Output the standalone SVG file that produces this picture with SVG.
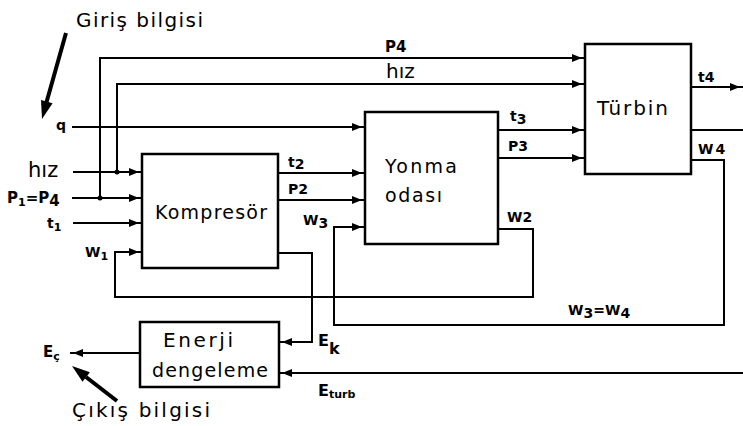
<svg xmlns="http://www.w3.org/2000/svg" width="743" height="426" viewBox="0 0 743 426">
<style>
.ln{fill:none;stroke:#000;stroke-width:2}
.box{fill:#fff;stroke:#000;stroke-width:2.5}
text{font-family:"DejaVu Sans","Liberation Sans",sans-serif;fill:#000}
.lbl{font-size:19px}
.var{font-size:14px;font-weight:bold}
.sub{font-size:11px}
</style>
<defs>
<marker id="ah" markerUnits="userSpaceOnUse" markerWidth="14" markerHeight="10" refX="13" refY="4" orient="auto">
<path d="M0,0 L10,4 L0,8 z" fill="#000"/>
</marker>
</defs>
<g id="connectors">
<path class="ln" d="M100,198 V58 H585" marker-end="url(#ah)"/>
<path class="ln" d="M72,198 H142" marker-end="url(#ah)"/>
<path class="ln" d="M117,172 V84 H585" marker-end="url(#ah)"/>
<path class="ln" d="M73,172 H142" marker-end="url(#ah)"/>
<path class="ln" d="M72,127 H365" marker-end="url(#ah)"/>
<path class="ln" d="M73,223 H142" marker-end="url(#ah)"/>
<path class="ln" d="M498,229 H533 V297 H115 V252 H142" marker-end="url(#ah)"/>
<path class="ln" d="M278,173 H365" marker-end="url(#ah)"/>
<path class="ln" d="M278,200 H365" marker-end="url(#ah)"/>
<path class="ln" d="M278,253 H312 V342 H279" marker-end="url(#ah)"/>
<path class="ln" d="M691,160 H724 V325 H334 V227 H365" marker-end="url(#ah)"/>
<path class="ln" d="M498,130 H585" marker-end="url(#ah)"/>
<path class="ln" d="M498,158 H585" marker-end="url(#ah)"/>
<path class="ln" d="M691,87 H743" marker-end="url(#ah)"/>
<path class="ln" d="M691,130 H743"/>
<path class="ln" d="M743,373 H279" marker-end="url(#ah)"/>
<path class="ln" d="M140,353 H70" marker-end="url(#ah)"/>
<circle cx="100" cy="198" r="2.5"/>
<circle cx="117" cy="172" r="2.5"/>
<line x1="66" y1="33" x2="46" y2="104" stroke="#000" stroke-width="4"/>
<polygon points="42,119 52.6,103.3 41,100.1"/>
<line x1="117" y1="401" x2="86" y2="377" stroke="#000" stroke-width="4"/>
<polygon points="72,366 89.9,372.3 82.5,381.8"/>
</g>
<g id="kompresor">
<rect class="box" x="142" y="154" width="136" height="114"/>
<text x="155" y="219" textLength="112" lengthAdjust="spacing" style="font-size:19px">Kompresör</text>
</g>
<g id="yonma">
<rect class="box" x="365" y="112" width="133" height="132"/>
<text class="lbl" x="385" y="173" textLength="72" lengthAdjust="spacing">Yonma</text>
<text class="lbl" x="385" y="202" textLength="57" lengthAdjust="spacing">odası</text>
</g>
<g id="turbin">
<rect class="box" x="585" y="44" width="106" height="130"/>
<text x="597" y="115" textLength="71" lengthAdjust="spacing" style="font-size:20px">Türbin</text>
</g>
<g id="enerji">
<rect class="box" x="140" y="322" width="139" height="65"/>
<text class="lbl" x="163" y="347" textLength="70" lengthAdjust="spacing" style="font-size:20px">Enerji</text>
<text class="lbl" x="152" y="377" textLength="116" lengthAdjust="spacing">dengeleme</text>
</g>
<g id="labels">
<text x="76" y="27" textLength="127" lengthAdjust="spacing" style="font-size:20px">Giriş bilgisi</text>
<text x="72" y="417" textLength="138" lengthAdjust="spacing" style="font-size:20px">Çıkış bilgisi</text>
<text class="var" x="56" y="130" style="font-size:14px">q</text>
<text x="28" y="177" style="font-size:21px">hız</text>
<text class="var" x="7" y="203" style="font-size:15px">P<tspan class="sub" dy="3">1</tspan><tspan dy="-3">=P</tspan><tspan dy="3">4</tspan></text>
<text class="var" x="47" y="228">t<tspan class="sub" dy="3">1</tspan></text>
<text class="var" x="85" y="257">W<tspan class="sub" dy="3">1</tspan></text>
<text class="var" x="288" y="167">t<tspan dy="2">2</tspan></text>
<text class="var" x="288" y="194">P<tspan dy="0">2</tspan></text>
<text class="var" x="303" y="225">W<tspan dy="3">3</tspan></text>
<text class="var" x="510" y="121">t<tspan dy="3">3</tspan></text>
<text class="var" x="508" y="151">P<tspan dy="0">3</tspan></text>
<text class="var" x="698" y="82">t<tspan dy="0">4</tspan></text>
<text class="var" x="698" y="154">W<tspan dx="2">4</tspan></text>
<text class="var" x="507" y="222">W<tspan dy="0">2</tspan></text>
<text class="var" x="568" y="315">W<tspan dy="3">3</tspan><tspan dy="-3">=W</tspan><tspan dy="3">4</tspan></text>
<text class="var" x="318" y="346" style="font-size:16px">E<tspan dy="8">k</tspan></text>
<text class="var" x="318" y="396" style="font-size:16px">E<tspan class="sub" dy="2">turb</tspan></text>
<text class="var" x="385" y="52" style="font-size:15px">P4</text>
<text x="386" y="78" style="font-size:20px">hız</text>
<text class="var" x="43" y="357" style="font-size:15px">E<tspan class="sub" dy="3">ç</tspan></text>
</g>
</svg>
